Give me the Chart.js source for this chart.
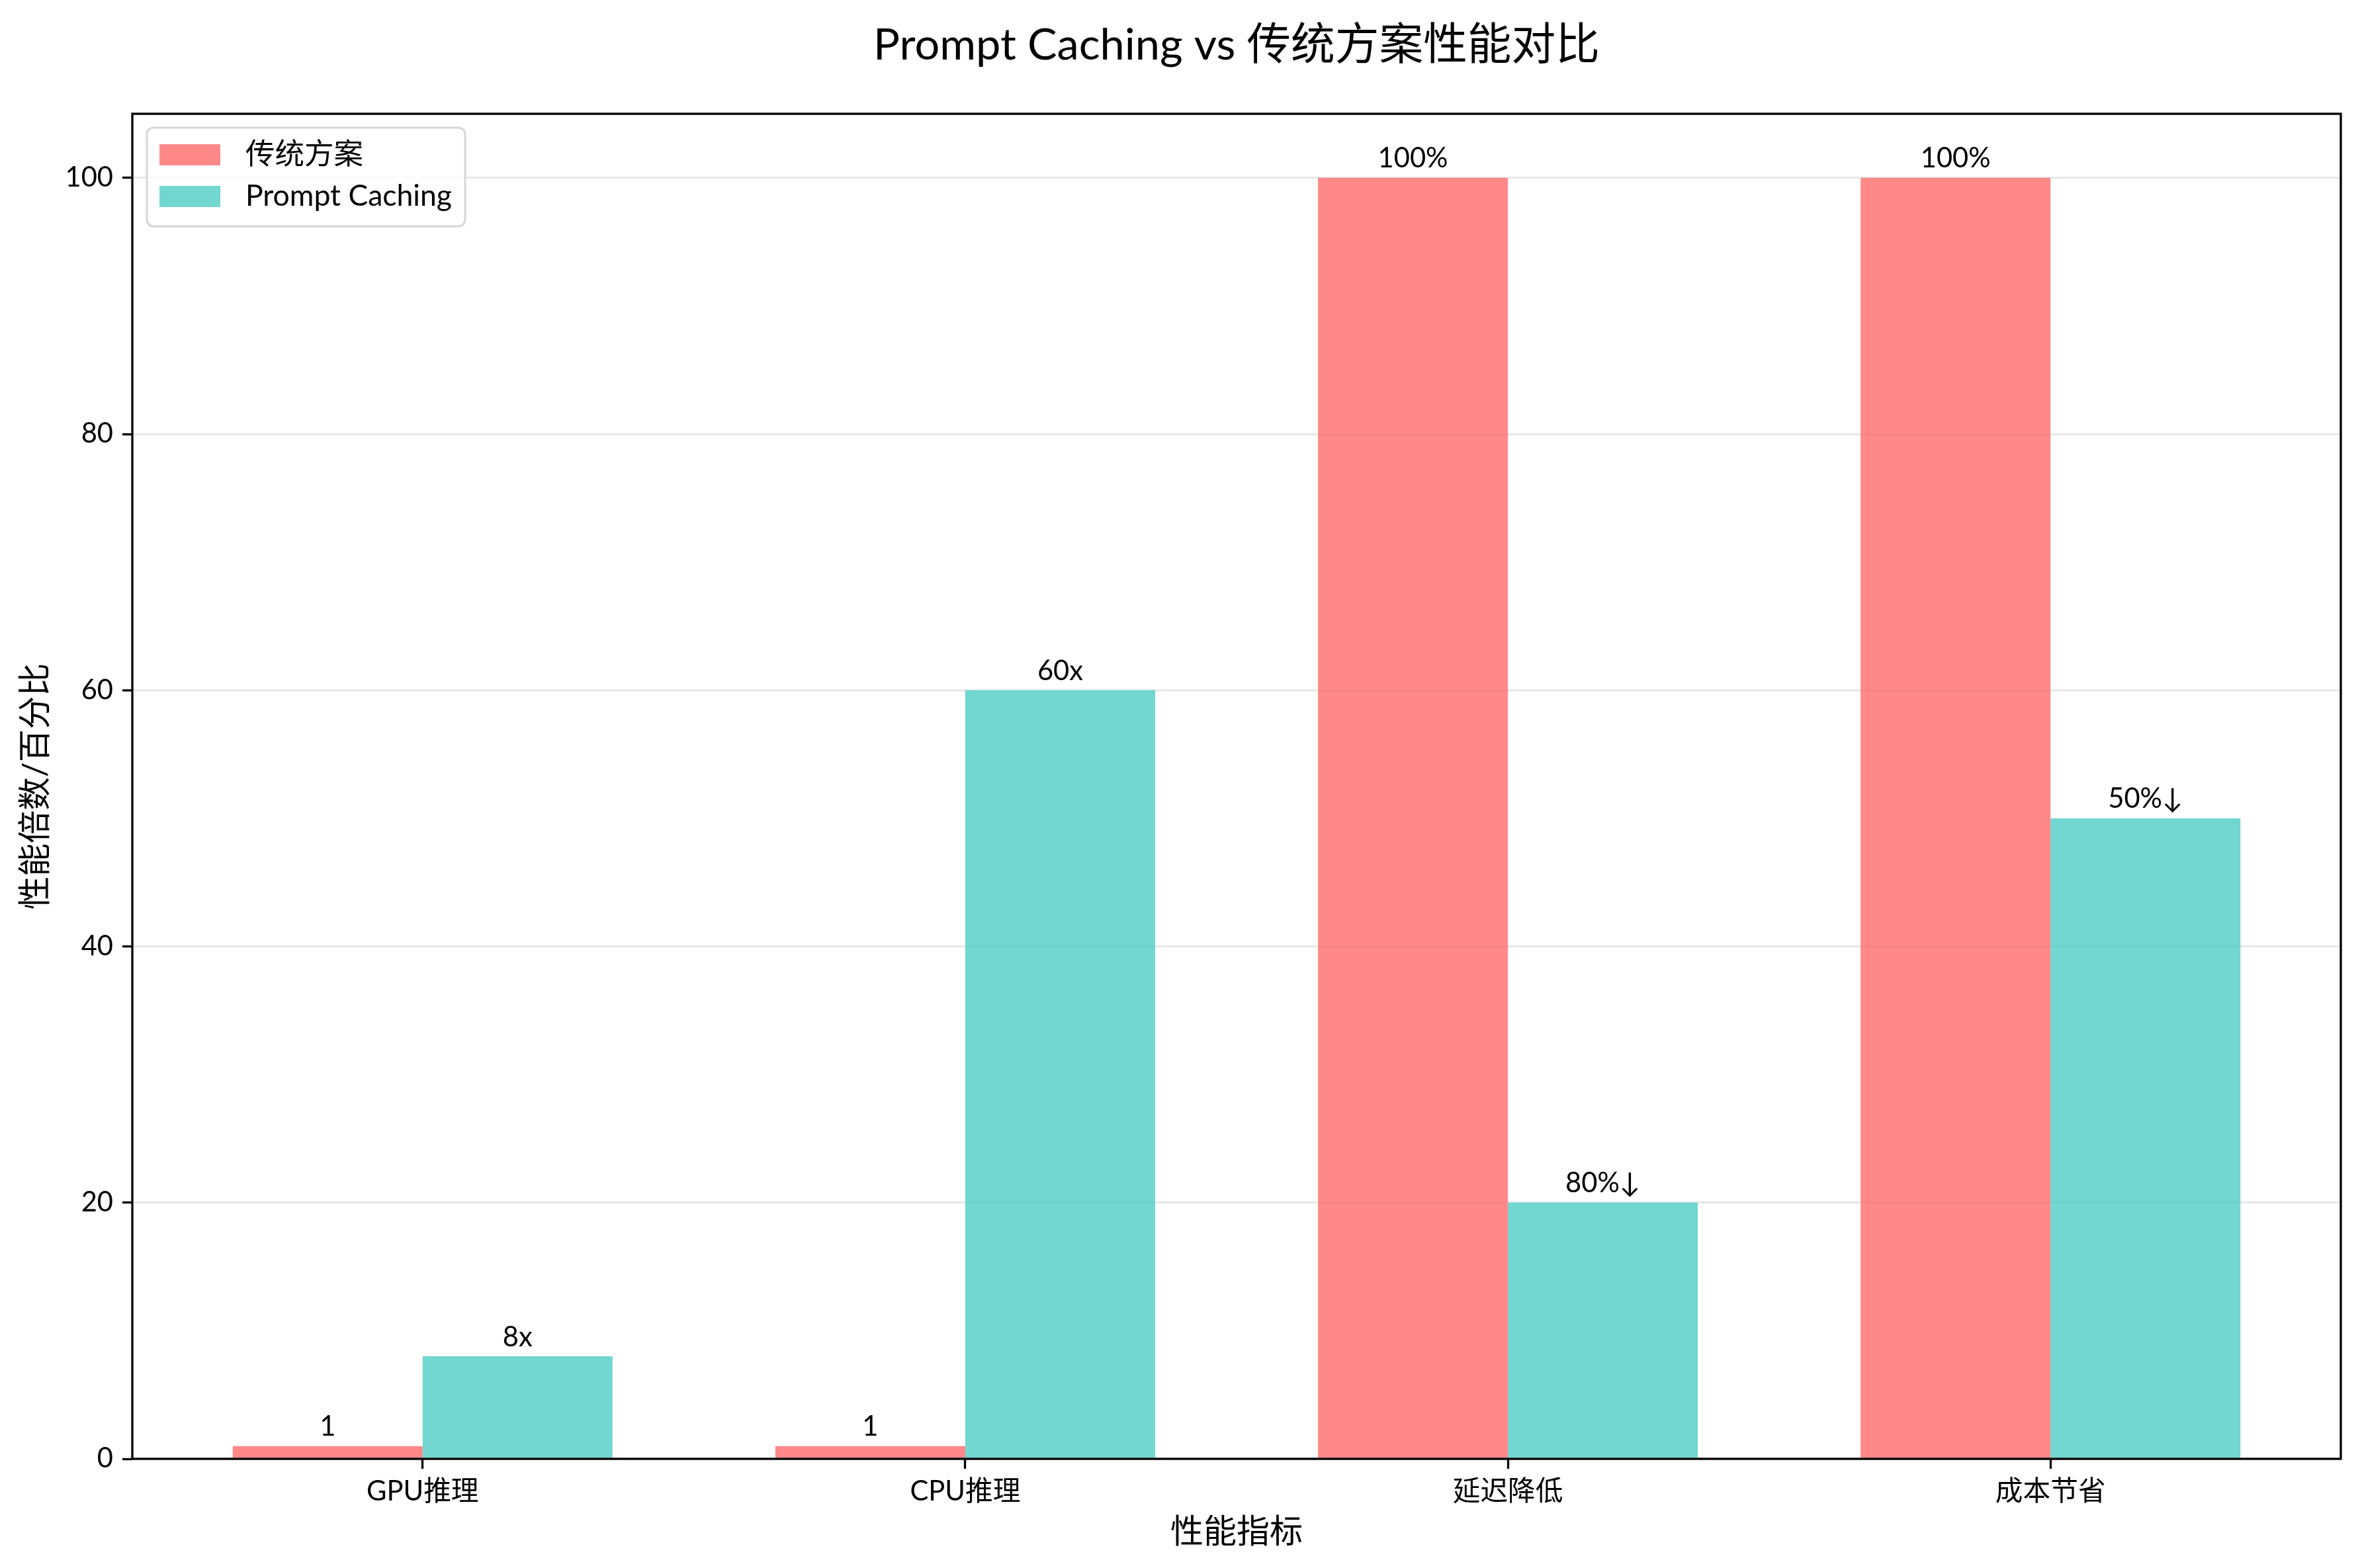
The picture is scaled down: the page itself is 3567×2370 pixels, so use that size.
<!DOCTYPE html>
<html>
<head>
<meta charset="utf-8">
<script src="https://cdn.jsdelivr.net/npm/chart.js@4.4.1/dist/chart.umd.min.js"></script>
<style>
  html, body { margin: 0; padding: 0; background: #fff; }
  canvas { display: block; }
</style>
</head>
<body>
<canvas id="chart" width="3567" height="2370"></canvas>
<script>
// dati
const categories = ['GPU推理', 'CPU推理', '延迟降低', '成本节省'];
const traditionalValues = [1, 1, 100, 100];
const cachingValues = [8, 60, 20, 50];
const traditionalLabels = ['1', '1', '100%', '100%'];
const cachingLabels = ['8x', '60x', '80%↓', '50%↓'];
const yTicks = [0, 20, 40, 60, 80, 100];
const seriesNames = ['传统方案', 'Prompt Caching'];

const FONT = "Lato, 'Noto Sans CJK SC', 'DejaVu Sans', sans-serif";
const LABEL_FONT = "Lato, 'DejaVu Sans', 'Noto Sans CJK SC', sans-serif";
const RED = 'rgba(255,107,107,0.8)';
const TEAL = 'rgba(78,205,196,0.8)';

(function () {
  const toPoints = (vals) => vals.map((v, i) => ({ x: i, y: v }));

  // cornice completa (spine matplotlib), titolo, etichette assi e legenda
  const decorations = {
    id: 'decorations',
    afterDatasetsDraw(chart) {
      const ctx = chart.ctx;
      const labelSets = [traditionalLabels, cachingLabels];
      ctx.save();
      ctx.fillStyle = '#000';
      ctx.font = '41.7px ' + LABEL_FONT;
      ctx.textAlign = 'center';
      ctx.textBaseline = 'bottom';
      labelSets.forEach((labels, di) => {
        chart.getDatasetMeta(di).data.forEach((bar, i) => {
          ctx.fillText(labels[i], bar.x, bar.y - 8);
        });
      });
      ctx.restore();
    },
    afterDraw(chart) {
      const ctx = chart.ctx;
      const a = chart.chartArea;
      ctx.save();
      ctx.strokeStyle = '#000';
      ctx.lineWidth = 3.3;
      ctx.strokeRect(a.left, a.top, a.right - a.left, a.bottom - a.top);

      const cx = (a.left + a.right) / 2;
      ctx.fillStyle = '#000';
      ctx.textAlign = 'center';
      ctx.textBaseline = 'middle';
      ctx.font = '66.7px ' + FONT;
      ctx.fillText('Prompt Caching vs 传统方案性能对比', cx, 68);

      ctx.font = '50px ' + FONT;
      ctx.fillText('性能指标', cx, 2316);

      ctx.save();
      ctx.translate(54, (a.top + a.bottom) / 2);
      ctx.rotate(-Math.PI / 2);
      ctx.fillText('性能倍数/百分比', 0, 0);
      ctx.restore();

      // legenda
      const lx = 222, ly = 193, lw = 481, lh = 149, r = 10;
      ctx.beginPath();
      ctx.moveTo(lx + r, ly);
      ctx.arcTo(lx + lw, ly, lx + lw, ly + lh, r);
      ctx.arcTo(lx + lw, ly + lh, lx, ly + lh, r);
      ctx.arcTo(lx, ly + lh, lx, ly, r);
      ctx.arcTo(lx, ly, lx + lw, ly, r);
      ctx.closePath();
      ctx.fillStyle = 'rgba(255,255,255,0.8)';
      ctx.fill();
      ctx.strokeStyle = '#d6d6d6';
      ctx.lineWidth = 3;
      ctx.stroke();

      const colors = [RED, TEAL];
      const rows = [234, 297];
      ctx.font = '44.5px ' + FONT;
      ctx.textAlign = 'left';
      ctx.textBaseline = 'middle';
      seriesNames.forEach((name, i) => {
        ctx.fillStyle = colors[i];
        ctx.fillRect(241, rows[i] - 16, 92, 32);
        ctx.fillStyle = '#000';
        ctx.fillText(name, 371, rows[i]);
      });
      ctx.restore();
    }
  };

  new Chart(document.getElementById('chart').getContext('2d'), {
    type: 'bar',
    data: {
      datasets: [
        { label: seriesNames[0], data: toPoints(traditionalValues), backgroundColor: RED },
        { label: seriesNames[1], data: toPoints(cachingValues), backgroundColor: TEAL }
      ]
    },
    options: {
      responsive: false,
      animation: false,
      devicePixelRatio: 1,
      layout: { padding: { top: 172, right: 29, left: 0, bottom: 0 } },
      datasets: { bar: { categoryPercentage: 0.7, barPercentage: 1.0 } },
      plugins: { legend: { display: false }, title: { display: false }, tooltip: { enabled: false } },
      scales: {
        x: {
          type: 'linear',
          min: -0.535,
          max: 3.535,
          offset: false,
          afterBuildTicks(scale) { scale.ticks = categories.map((c, i) => ({ value: i })); },
          afterFit(scale) { scale.height = 2370 - 2205; },
          ticks: {
            callback: (v) => categories[v],
            font: { family: FONT, size: 41.7 },
            color: '#000',
            padding: 10,
            maxRotation: 0,
            autoSkip: false
          },
          grid: { offset: false, drawOnChartArea: false, drawTicks: true, tickLength: 15, tickColor: '#000', tickWidth: 3.3 },
          border: { display: false }
        },
        y: {
          min: 0,
          max: 105,
          afterBuildTicks(scale) { scale.ticks = yTicks.map((v) => ({ value: v })); },
          afterFit(scale) { scale.width = 200; },
          ticks: {
            font: { family: FONT, size: 41.7 },
            color: '#000',
            padding: 14
          },
          grid: { color: 'rgba(176,176,176,0.3)', lineWidth: 3, tickLength: 15, tickColor: '#000', tickWidth: 3.3 },
          border: { display: false }
        }
      }
    },
    plugins: [decorations]
  });
})();
</script>
</body>
</html>
